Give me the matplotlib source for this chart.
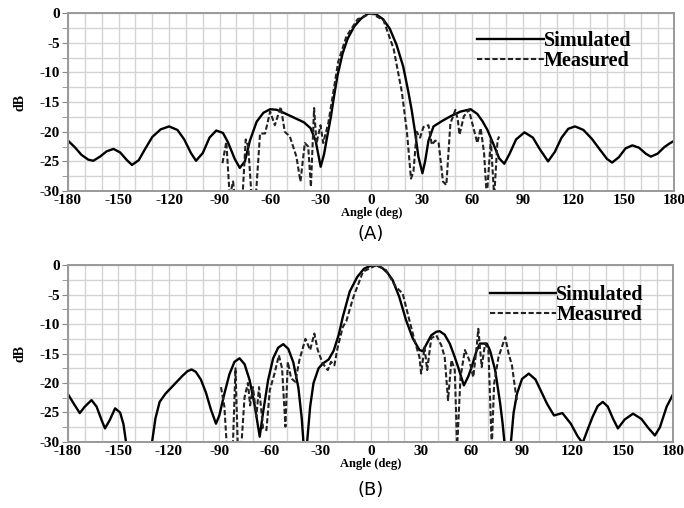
import numpy as np
import matplotlib
matplotlib.use("Agg")
import matplotlib.pyplot as plt
from matplotlib.ticker import MultipleLocator

plt.rcParams['axes.unicode_minus'] = False

# ---- panel (A) ----
a_sim_deg = [-180, -176, -172, -168, -165, -161, -157, -153, -149, -145, -142, -138, -134,
             -130, -125, -120, -115, -111, -107, -104, -100, -96, -92, -88, -85, -81, -78,
             -75, -72, -68, -64, -60, -56, -52, -46, -40, -36, -33, -30, -28, -26.5, -24,
             -22, -20, -17, -14, -10, -6, -2, 0, 3, 7, 11, 15, 19, 22, 24, 26, 28, 30.4,
             32, 34, 37, 42, 47, 53, 59, 63, 66, 69, 73, 76, 79, 82, 86, 91, 96, 100,
             105, 109, 113, 117, 121, 126, 131, 136, 140, 143, 147, 151, 155, 159, 163,
             166, 170, 174, 177, 180]
a_sim_db = [-21.5, -22.6, -23.9, -24.7, -24.9, -24.2, -23.3, -22.9, -23.5, -24.8, -25.6,
            -24.8, -22.8, -20.9, -19.6, -19.1, -19.7, -21.3, -23.6, -24.9, -23.6, -21.0,
            -19.8, -20.2, -21.8, -24.6, -26.1, -25.0, -21.5, -18.3, -16.8, -16.2, -16.3,
            -16.8, -17.6, -18.4, -19.4, -21.5, -25.9, -23.8, -21.4, -17.6, -13.9, -10.5,
            -6.8, -4.3, -2.2, -0.9, -0.1, 0, -0.2, -1.0, -2.6, -5.3, -9.0, -13.2, -16.3,
            -20.0, -24.2, -27.0, -25.0, -21.5, -19.1, -18.2, -17.4, -16.6, -16.2, -17.0,
            -18.2, -19.7, -22.4, -24.5, -25.4, -23.8, -21.3, -20.1, -21.0, -22.9, -25.0,
            -23.4, -21.0, -19.5, -19.1, -19.7, -21.2, -23.1, -24.6, -25.2, -24.3, -22.8,
            -22.3, -22.7, -23.7, -24.2, -23.7, -22.6, -22.0, -21.5]

a_meas_deg = [-88.3, -86, -84, -82, -81, -76.4, -74.5, -73, -71, -68.5, -66, -63, -60,
              -57.2, -53.7, -51.3, -48.3, -44.4, -42, -39.4, -37.4, -35.8, -33.9, -32.5,
              -30.1, -28.5, -25.5, -22.6, -19.6, -14.7, -8, 0, 7.3, 13.3, 18.2, 21.2, 23.6,
              25.1, 27, 29, 31, 34, 36, 38, 40, 42.6, 44.6, 47, 50, 51.4, 52.4, 55, 58,
              60, 63, 65, 67, 68.6, 71, 73, 75, 76]
a_meas_db = [-25.3, -21.7, -31, -28.4, -31, -31, -21.3, -22.5, -31, -31, -20.3, -20.3,
             -16.6, -18.9, -15.8, -20, -20.8, -24.2, -28.4, -21.9, -22.5, -29.3, -16,
             -22, -18.9, -21.9, -18.6, -13.5, -8.2, -3.9, -1.0, 0, -1.2, -6, -13.3, -20,
             -27.9, -26.7, -20, -21, -19.2, -18.9, -22.2, -21.5, -21.8, -28.4, -29,
             -18.6, -16.3, -18, -20.5, -17.4, -16.3, -18.6, -21.9, -19.4, -23.6, -31,
             -21.4, -31, -21.4, -20.8]

# ---- panel (B) ----
b_sim_deg = [-180, -177, -173, -170, -166, -163, -160, -158, -155, -152, -149, -147,
             -145.5, -144, -131, -130, -128, -125.5, -122, -118, -115, -112, -109, -106.5,
             -104, -101, -98, -95, -92, -90, -87, -84, -81, -78, -75, -72, -69, -66, -64,
             -61, -58, -55, -52, -49, -46, -43, -41, -40, -39, -38.5, -37.8, -36, -34,
             -31, -28.5, -25, -22, -19, -16.6, -12.5, -8, -4, 0, 3.4, 7, 10, 13, 17, 21,
             25, 29, 31, 33, 36, 39, 41, 44, 47, 50, 52, 55.4, 58, 60, 63, 65, 69, 71,
             74, 77, 78.5, 79.5, 80, 82.5, 83.4, 85, 87, 90, 94, 98, 101, 105, 109, 114,
             119, 123, 126, 129, 132, 135, 138, 141, 144, 147, 151, 156, 161, 165, 169,
             172, 176, 180]
b_sim_db = [-21.9, -23.3, -25.1, -24.0, -22.9, -24.0, -26.3, -27.7, -26.2, -24.3, -25.0,
            -27.0, -30.0, -32.0, -32.0, -30.0, -26.0, -23.2, -21.8, -20.6, -19.7, -18.8,
            -18.0, -17.7, -18.1, -19.4, -21.6, -24.5, -26.9, -25.5, -21.8, -18.5, -16.4,
            -15.8, -16.8, -19.5, -23.8, -29.1, -25.0, -19.5, -15.8, -14.0, -13.4, -14.2,
            -16.5, -20.8, -26.0, -30.0, -32.0, -32.0, -30.0, -24.0, -20.0, -17.5, -16.7,
            -16.0, -14.5, -11.8, -8.8, -4.5, -2.0, -0.6, -0.1, 0, -0.5, -1.3, -2.5, -5.4,
            -9.3, -12.4, -14.4, -14.6, -13.5, -11.9, -11.3, -11.2, -11.8, -13.3, -15.6,
            -17.3, -20.4, -18.9, -17.3, -14.5, -13.3, -13.3, -14.5, -17.8, -23.5, -27.0,
            -30.0, -32.0, -32.0, -30.0, -25.0, -21.8, -19.3, -18.4, -19.4, -21.2, -23.6,
            -25.5, -25.1, -26.9, -29.0, -30.2, -27.9, -25.7, -23.9, -23.2, -24.0, -26.0,
            -27.7, -26.2, -25.2, -26.1, -27.6, -28.9, -27.5, -24.0, -21.8]

b_meas_deg = [-89, -87, -85.5, -82, -80.4, -79, -77, -75, -73, -71.7, -70, -68, -66.4,
              -64, -62, -60, -57.2, -54.6, -52.7, -50.7, -49.3, -47.3, -44.8, -42.4,
              -38.8, -36, -33.5, -31.5, -28.5, -25.5, -23.6, -21.6, -19.6, -16.6, -14.5,
              -10.5, -4.6, 3.4, 9, 15, 19, 22, 26, 29, 30, 32, 33.6, 36, 39, 42, 44, 46,
              48, 50, 51.4, 53.4, 56, 58.6, 61, 63, 64, 66, 68, 70, 72, 73.4, 76, 80,
              82, 84, 86, 87]
b_meas_db = [-20.7, -24, -31, -31, -17.5, -31, -31, -22.4, -20, -23.8, -20.7, -25.7,
             -20.7, -27.7, -28, -21.2, -18.4, -15.3, -17.5, -27.4, -16.4, -19.2, -19.8,
             -16.1, -12.5, -14.4, -11.6, -14.4, -16.7, -17.8, -16.4, -17, -13.9, -10.5,
             -9.5, -5.6, -1.1, 0, -0.8, -3.7, -4.8, -8.2, -12.7, -15.6, -18.4, -13.9,
             -17.8, -12.4, -11.9, -13.6, -15.6, -22.9, -16.1, -17.8, -31, -19, -14.4,
             -16.1, -19, -13.9, -10.8, -17.3, -13.3, -14.4, -31, -20.1, -15.6, -12.2,
             -15, -17, -21.2, -23.2]

serif = "Liberation Serif"


def draw_panel(ax, sim_x, sim_y, meas_x, meas_y, legend_anchor):
    ax.plot(sim_x, sim_y, color="black", linewidth=1.7, label="Simulated")
    ax.plot(meas_x, meas_y, color="#222222", linewidth=1.5, linestyle=(0, (2.5, 1.2)),
            label="Measured")
    ax.set_xlim(-180, 180)
    ax.set_ylim(-30, 0)
    ax.xaxis.set_major_locator(MultipleLocator(30))
    ax.xaxis.set_minor_locator(MultipleLocator(10))
    ax.yaxis.set_major_locator(MultipleLocator(5))
    ax.yaxis.set_minor_locator(MultipleLocator(2.5))
    ax.grid(True, which="both", color="#d4d4d4", linewidth=1.0)
    ax.set_axisbelow(True)
    ax.tick_params(axis="both", which="both", length=0)
    ax.tick_params(axis="y", which="both", length=4, color="#888888", direction="out")
    for lbl in ax.get_xticklabels() + ax.get_yticklabels():
        lbl.set_fontfamily(serif)
        lbl.set_fontweight("bold")
        lbl.set_fontsize(11)
    ax.tick_params(axis="x", pad=2.5)
    ax.tick_params(axis="y", pad=2)
    for sp in ax.spines.values():
        sp.set_color("#999999")
        sp.set_linewidth(1.4)
    ax.set_xlabel("Angle (deg)", fontfamily=serif, fontweight="bold", fontsize=9,
                  labelpad=0)
    ax.set_ylabel("dB", fontfamily=serif, fontweight="bold", fontsize=10, labelpad=9)
    ax.legend(loc="upper left", bbox_to_anchor=legend_anchor, frameon=False,
              prop={"family": serif, "weight": "bold", "size": 14.5},
              handlelength=3.3, handletextpad=0.0, labelspacing=0.0,
              borderaxespad=0, borderpad=0)


fig = plt.figure(figsize=(6.84, 5.08), dpi=100)
ax_a = fig.add_axes([0.0994, 0.624, 0.8866, 0.350])
ax_b = fig.add_axes([0.0994, 0.130, 0.8851, 0.348])

draw_panel(ax_a, a_sim_deg, a_sim_db, a_meas_deg, a_meas_db, (0.675, 0.90))
draw_panel(ax_b, b_sim_deg, b_sim_db, b_meas_deg, b_meas_db, (0.697, 0.89))

fig.text(371 / 684, 1 - 234 / 508, "(A)", ha="center", va="center",
         fontfamily="DejaVu Sans", fontsize=13)
fig.text(371 / 684, 1 - 490 / 508, "(B)", ha="center", va="center",
         fontfamily="DejaVu Sans", fontsize=13)

fig.savefig("out.png", dpi=100)
